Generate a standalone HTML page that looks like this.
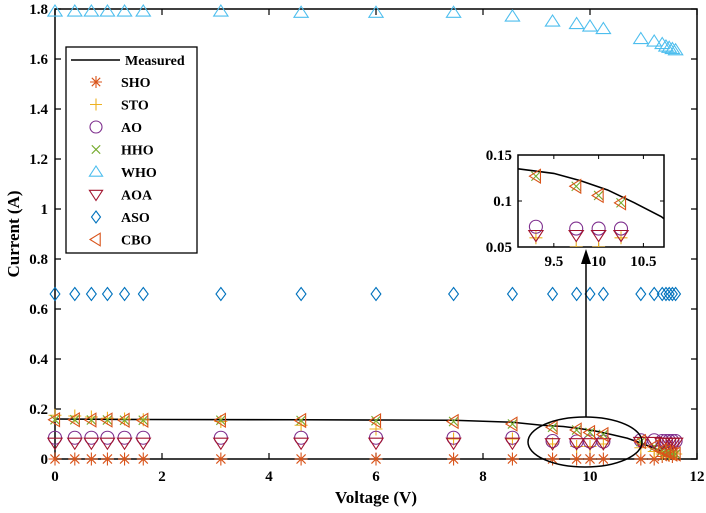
<!DOCTYPE html>
<html><head><meta charset="utf-8"><style>
body{margin:0;background:#fff}
svg{display:block;font-family:"Liberation Serif",serif;font-weight:bold}
</style></head><body>
<svg id="chart" width="706" height="513"></svg>
<script>
const voltages=[0,0.37,0.68,0.98,1.3,1.65,3.1,4.6,6.0,7.45,8.55,9.3,9.75,10.0,10.25,10.95,11.2,11.35,11.42,11.48,11.54,11.6];
const measuredV=[0,1.65,4.6,7.45,8.55,9.1,9.5,9.8,10.1,10.4,10.7,11.0,11.3,11.6];
const measuredI=[0.16,0.158,0.157,0.155,0.147,0.135,0.13,0.122,0.112,0.098,0.083,0.06,0.035,0.01];
const sho=[0,0,0,0,0,0,0,0,0,0,0,0,0,0,0,0,0,0.01,0.02,0.015,0.01,0.02];
const sto=[0.175,0.172,0.168,0.163,0.16,0.157,0.15,0.135,0.12,0.08,0.08,0.06,0.05,0.05,0.06,0.045,0.03,0.02,0.03,0.02,0.025,0.02];
const ao=[0.085,0.085,0.085,0.085,0.085,0.085,0.085,0.085,0.085,0.085,0.085,0.072,0.07,0.07,0.07,0.075,0.075,0.072,0.072,0.072,0.072,0.072];
const hho=[0.157,0.157,0.156,0.156,0.155,0.155,0.155,0.154,0.153,0.15,0.14,0.127,0.116,0.106,0.098,0.07,0.05,0.035,0.03,0.025,0.02,0.02];
const who=[1.79,1.79,1.79,1.79,1.79,1.79,1.79,1.785,1.785,1.785,1.77,1.75,1.74,1.73,1.72,1.68,1.67,1.66,1.65,1.645,1.64,1.635];
const aoa=[0.065,0.065,0.065,0.065,0.065,0.065,0.065,0.065,0.065,0.065,0.065,0.063,0.063,0.063,0.063,0.068,0.068,0.065,0.065,0.065,0.065,0.065];
const aso=[0.66,0.66,0.66,0.66,0.66,0.66,0.66,0.66,0.66,0.66,0.66,0.66,0.66,0.66,0.66,0.66,0.66,0.66,0.66,0.66,0.66,0.66];
const cbo=hho.slice();
const xTicks=[0,2,4,6,8,10,12];
const yTicks=[0,0.2,0.4,0.6,0.8,1,1.2,1.4,1.6,1.8];
const insetXTicks=[9.5,10,10.5];
const insetYTicks=[0.05,0.1,0.15];
const legendLabels=["SHO","STO","AO","HHO","WHO","AOA","ASO","CBO"];

const NS="http://www.w3.org/2000/svg";
const svg=document.getElementById('chart');
function el(t,a,p){const e=document.createElementNS(NS,t);for(const k in a)e.setAttribute(k,a[k]);(p||svg).appendChild(e);return e;}
const L=55,R=697,T=9,B=459;
const xs=v=>L+v/12*(R-L), ys=v=>B-v/1.8*(B-T);
const colors={SHO:"#D95319",STO:"#EDB120",AO:"#7E2F8E",HHO:"#77AC30",WHO:"#4DBEEE",AOA:"#A2142F",ASO:"#0072BD",CBO:"#D95319"};
function marker(type,x,y,s,g){
  const c=colors[type];const st={fill:"none",stroke:c,"stroke-width":1.1};
  let e;
  if(type==="SHO"){e=el('path',Object.assign({d:`M${x-s} ${y}H${x+s}M${x} ${y-s}V${y+s}M${x-s*.7} ${y-s*.7}L${x+s*.7} ${y+s*.7}M${x-s*.7} ${y+s*.7}L${x+s*.7} ${y-s*.7}`},st),g);}
  else if(type==="STO"){e=el('path',Object.assign({d:`M${x-s} ${y}H${x+s}M${x} ${y-s}V${y+s}`},st),g);}
  else if(type==="AO"){e=el('circle',Object.assign({cx:x,cy:y,r:s},st),g);}
  else if(type==="HHO"){e=el('path',Object.assign({d:`M${x-s*.7} ${y-s*.7}L${x+s*.7} ${y+s*.7}M${x-s*.7} ${y+s*.7}L${x+s*.7} ${y-s*.7}`},st),g);}
  else if(type==="WHO"){e=el('path',Object.assign({d:`M${x} ${y-s}L${x+s*1.1} ${y+s*.7}L${x-s*1.1} ${y+s*.7}Z`},st),g);}
  else if(type==="AOA"){e=el('path',Object.assign({d:`M${x} ${y+s}L${x+s*1.1} ${y-s*.7}L${x-s*1.1} ${y-s*.7}Z`},st),g);}
  else if(type==="ASO"){e=el('path',Object.assign({d:`M${x} ${y-s}L${x+s*.75} ${y}L${x} ${y+s}L${x-s*.75} ${y}Z`},st),g);}
  else {e=el('path',Object.assign({d:`M${x-s} ${y}L${x+s*.7} ${y-s*1.05}L${x+s*.7} ${y+s*1.05}Z`},st),g);}
  
  
  return e;
}
const series={SHO:sho,STO:sto,AO:ao,HHO:hho,WHO:who,AOA:aoa,ASO:aso,CBO:cbo};
const box=el('rect',{x:L,y:T,width:R-L,height:B-T,fill:"none",stroke:"#000","stroke-width":1.5});


xTicks.forEach(t=>{const x=xs(t);
  el('path',{d:`M${x} ${B}V${B-6}M${x} ${T}V${T+6}`,stroke:"#000","stroke-width":1.2});
  const tx=el('text',{x:x,y:B+22,"text-anchor":"middle","font-size":15});tx.textContent=t;
  
  
});
yTicks.forEach(t=>{const y=ys(t);
  el('path',{d:`M${L} ${y}H${L+6}M${R} ${y}H${R-6}`,stroke:"#000","stroke-width":1.2});
  const tx=el('text',{x:L-7,y:y+5,"text-anchor":"end","font-size":15});tx.textContent=t;
  
  
});
const xt=el('text',{x:(L+R)/2,y:503,"text-anchor":"middle","font-size":17});xt.textContent="Voltage (V)";


const yt=el('text',{x:0,y:0,"text-anchor":"middle","font-size":17,transform:`translate(19,${(T+B)/2}) rotate(-90)`});yt.textContent="Current (A)";


const ml=el('polyline',{points:measuredV.map((v,i)=>xs(v)+","+ys(measuredI[i])).join(" "),fill:"none",stroke:"#000","stroke-width":1.6});


Object.keys(series).forEach(k=>{const g=el('g',{});
  
  
  series[k].forEach((v,i)=>marker(k,xs(voltages[i]),ys(v),6.5,g));});
const ell=el('ellipse',{cx:585,cy:442,rx:57,ry:25,fill:"none",stroke:"#000","stroke-width":1.5});


const arr=el('path',{d:"M586 417V262",stroke:"#000","stroke-width":1.5});


const IL=518,IR=664,IT=155,IB=247,X0=9.1,X1=10.73,Y0=0.05,Y1=0.15;
const ixs=v=>IL+(v-X0)/(X1-X0)*(IR-IL), iys=v=>IB-(v-Y0)/(Y1-Y0)*(IB-IT);
const ig=el('g',{});


el('rect',{x:IL,y:IT,width:IR-IL,height:IB-IT,fill:"#fff",stroke:"#000","stroke-width":1.5},ig);
insetXTicks.forEach(t=>{const x=ixs(t);el('path',{d:`M${x} ${IB}V${IB-4}M${x} ${IT}V${IT+4}`,stroke:"#000"},ig);
  const tx=el('text',{x:x,y:IB+19,"text-anchor":"middle","font-size":15},ig);tx.textContent=t;
  
  });
insetYTicks.forEach(t=>{const y=iys(t);el('path',{d:`M${IL} ${y}H${IL+4}M${IR} ${y}H${IR-4}`,stroke:"#000"},ig);
  const tx=el('text',{x:IL-6,y:y+5,"text-anchor":"end","font-size":15},ig);tx.textContent=t;
  
  });
const cp=el('clipPath',{id:'ic'},ig);el('rect',{x:IL,y:IT-8,width:IR-IL,height:IB-IT+8},cp);
const ic=el('g',{"clip-path":"url(#ic)"},ig);
el('polyline',{points:measuredV.map((v,i)=>ixs(v)+","+iys(measuredI[i])).join(" "),fill:"none",stroke:"#000","stroke-width":1.6},ic);
Object.keys(series).forEach(k=>series[k].forEach((v,i)=>{const x=voltages[i];if(x>=9.2&&x<=10.3&&v>=0.045&&v<=0.16)marker(k,ixs(x),iys(v),6.5,ic);}));
const ah=el('path',{d:"M586 249L581 264L591 264Z",fill:"#000"});


const lg=el('g',{});


el('rect',{x:66,y:47,width:131,height:206,fill:"#fff",stroke:"#000","stroke-width":1.3},lg);
el('path',{d:"M71 60H120",stroke:"#000","stroke-width":1.6},lg);
const mt=el('text',{x:125,y:65,"font-size":14},lg);mt.textContent="Measured";


legendLabels.forEach((n,i)=>{const y=82+i*22.5;marker(n,96,y,6,lg);
  const t=el('text',{x:121,y:y+5,"font-size":14},lg);t.textContent=n;
  
  });
</script>
</body></html>
